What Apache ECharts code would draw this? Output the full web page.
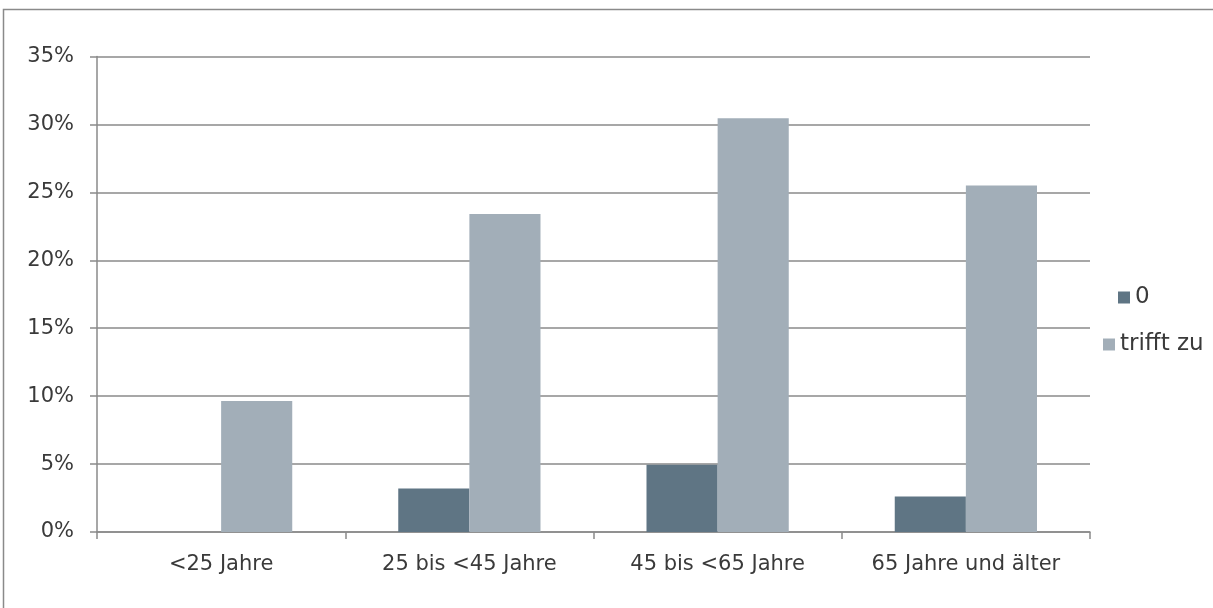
<!DOCTYPE html>
<html>
<head>
<meta charset="utf-8">
<script src="https://cdn.jsdelivr.net/npm/echarts@6/dist/echarts.min.js"></script>
<style>html,body{margin:0;padding:0;background:#fff;}#c{width:1213px;height:608px;}</style>
</head>
<body>
<div id="c"></div>
<script>
const categories = ['<25 Jahre', '25 bis <45 Jahre', '45 bis <65 Jahre', '65 Jahre und älter'];
const seriesNames = ['0', 'trifft zu'];
const values0 = [0, 3.2, 4.95, 2.62];
const valuesTrifft = [9.65, 23.4, 30.45, 25.5];
const yTicks = [0, 5, 10, 15, 20, 25, 30, 35];

const chart = echarts.init(document.getElementById('c'), null, {renderer: 'canvas'});
const axisColor = '#8a8a8a';
const textColor = '#3a3a3a';
const font = 'DejaVu Sans';
chart.setOption({
  animation: false,
  backgroundColor: '#ffffff',
  graphic: [{
    type: 'rect', silent: true,
    shape: {x: 3.5, y: 9.5, width: 1400, height: 800},
    style: {fill: 'none', stroke: '#8a8a8a', lineWidth: 1.5}
  }],
  grid: {left: 97, right: 123, top: 56.5, bottom: 76},
  legend: [{
    data: [seriesNames[0]], orient: 'vertical', left: 1113, top: 281,
    icon: 'rect', itemWidth: 12, itemHeight: 12, itemGap: 0,
    textStyle: {fontFamily: font, fontSize: 23, color: textColor},
    selectedMode: false
  }, {
    data: [seriesNames[1]], orient: 'vertical', left: 1098, top: 328,
    icon: 'rect', itemWidth: 12, itemHeight: 12, itemGap: 0,
    textStyle: {fontFamily: font, fontSize: 23, color: textColor},
    selectedMode: false
  }],
  xAxis: {
    type: 'category', data: categories,
    axisLine: {lineStyle: {color: axisColor, width: 1.5}},
    axisTick: {show: true, length: 7, lineStyle: {color: axisColor, width: 1.5}},
    axisLabel: {fontFamily: font, fontSize: 21, color: textColor, margin: 22, interval: 0}
  },
  yAxis: {
    type: 'value', min: yTicks[0], max: yTicks[yTicks.length - 1], interval: 5,
    axisLine: {show: true, lineStyle: {color: axisColor, width: 1.5}},
    axisTick: {show: true, length: 7, lineStyle: {color: axisColor, width: 1.5}},
    splitLine: {lineStyle: {color: axisColor, width: 1.5}},
    axisLabel: {fontFamily: font, fontSize: 21, color: textColor, margin: 23, formatter: '{value}%'}
  },
  series: [{
    name: seriesNames[0], type: 'bar', data: values0,
    barGap: '0%', barCategoryGap: '42.7%',
    itemStyle: {color: '#5f7584'}
  }, {
    name: seriesNames[1], type: 'bar', data: valuesTrifft,
    barGap: '0%', barCategoryGap: '42.7%',
    itemStyle: {color: '#a2aeb8'}
  }]
});
</script>
</body>
</html>
